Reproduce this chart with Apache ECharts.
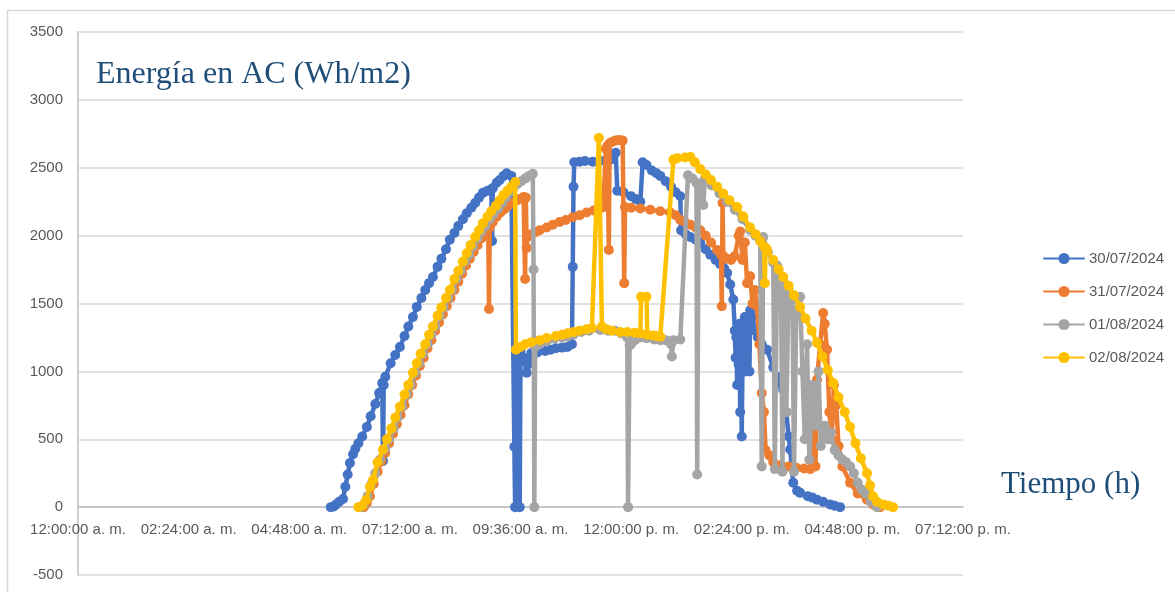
<!DOCTYPE html>
<html>
<head>
<meta charset="utf-8">
<script src="https://cdn.jsdelivr.net/npm/echarts@6/dist/echarts.min.js"></script>
<style>
  html, body { margin:0; padding:0; background:#fff; }
  #chart { width:1175px; height:592px; }
</style>
</head>
<body>
<div id="chart"></div>
<script>
// fechas (leyenda)
var dias = ['30/07/2024', '31/07/2024', '01/08/2024', '02/08/2024'];
var colores = ['#4472C4', '#ED7D31', '#A5A5A5', '#FFC000'];
// eje Y
var yMin = -500, yMax = 3500, yPaso = 500;
// eje X en horas
var xMin = 0, xMax = 19.2, xPaso = 2.4;

// energia AC [hora, Wh/m2]
var d3007 = [['05:29',0],['05:33',5],['05:36',20],['05:40',40],['05:45',60],['05:48',150],['05:51',240],['05:54',325],['05:58',390],['06:01',430],['06:05',470],['06:10',520],['06:16',590],['06:21',670],['06:27',760],['06:32',840],['06:36',915],['06:37',340],['06:38',900],['06:40',960],['06:47',1060],['06:53',1120],['06:59',1180],['07:05',1260],['07:10',1330],['07:16',1400],['07:21',1475],['07:27',1540],['07:32',1600],['07:37',1650],['07:42',1695],['07:48',1770],['07:53',1830],['07:59',1900],['08:04',1970],['08:10',2020],['08:15',2070],['08:21',2120],['08:26',2165],['08:32',2205],['08:37',2240],['08:42',2280],['08:47',2315],['08:53',2330],['08:58',2340],['08:59',1960],['09:00',2350],['09:05',2390],['09:09',2410],['09:14',2440],['09:18',2460],['09:24',2440],['09:28',445],['09:29',0],['09:30',1130],['09:35',0],['09:36',1150],['09:40',1100],['09:44',990],['09:46',1050],['09:50',1135],['09:58',1140],['10:08',1150],['10:15',1160],['10:22',1170],['10:30',1175],['10:37',1180],['10:43',1200],['10:44',1770],['10:45',2360],['10:46',2540],['10:53',2545],['11:00',2550],['11:10',2545],['11:19',2550],['11:27',2555],['11:33',2560],['11:36',2600],['11:40',2610],['11:42',2330],['11:50',2320],['12:00',2290],['12:06',2270],['12:12',2250],['12:15',2540],['12:20',2520],['12:27',2480],['12:33',2460],['12:38',2440],['12:45',2400],['12:52',2360],['12:58',2320],['13:04',2290],['13:05',2040],['13:11',2010],['13:17',1990],['13:24',1970],['13:30',1945],['13:37',1900],['13:43',1860],['13:50',1820],['13:56',1790],['14:01',1760],['14:05',1725],['14:09',1640],['14:13',1530],['14:15',1300],['14:16',1100],['14:17',1250],['14:18',900],['14:19',1200],['14:20',1050],['14:21',1350],['14:22',700],['14:23',1000],['14:24',520],['14:25',1100],['14:26',1200],['14:28',1400],['14:29',1000],['14:30',1250],['14:32',1380],['14:34',1000],['14:35',1450],['14:38',1400],['14:41',1300],['14:45',1250],['14:50',1200],['14:57',1160],['15:05',1030],['15:10',960],['15:14',910],['15:18',865],['15:22',700],['15:25',520],['15:27',425],['15:29',300],['15:31',180],['15:36',120],['15:40',105],['15:50',80],['15:56',70],['16:02',55],['16:10',40],['16:19',20],['16:25',10],['16:32',0]];

var d3107 = [['06:12',0],['06:16',30],['06:20',80],['06:25',170],['06:30',260],['06:35',340],['06:40',400],['06:45',470],['06:50',540],['06:55',610],['07:00',680],['07:05',750],['07:10',830],['07:15',900],['07:20',970],['07:25',1040],['07:30',1100],['07:35',1170],['07:40',1230],['07:45',1300],['07:50',1360],['07:55',1420],['08:00',1480],['08:05',1540],['08:10',1600],['08:15',1660],['08:20',1720],['08:25',1780],['08:30',1830],['08:35',1880],['08:40',1930],['08:45',1980],['08:50',2020],['08:54',2050],['08:55',1460],['08:56',2060],['09:00',2100],['09:05',2140],['09:10',2170],['09:15',2195],['09:20',2220],['09:25',2240],['09:30',2255],['09:35',2270],['09:40',2285],['09:42',1680],['09:43',2280],['09:44',1910],['09:45',1990],['09:50',2010],['09:55',2025],['10:01',2040],['10:10',2060],['10:18',2080],['10:27',2100],['10:35',2115],['10:44',2135],['10:53',2150],['11:02',2170],['11:11',2185],['11:20',2200],['11:24',2210],['11:27',2640],['11:29',2660],['11:31',1895],['11:32',2680],['11:35',2690],['11:39',2700],['11:44',2705],['11:49',2700],['11:51',1650],['11:52',2210],['12:00',2205],['12:12',2200],['12:25',2190],['12:38',2180],['12:51',2170],['12:58',2150],['13:04',2115],['13:10',2100],['13:17',2080],['13:24',2060],['13:30',2040],['13:37',2000],['13:44',1950],['13:52',1895],['13:57',1860],['13:58',1480],['13:59',2240],['14:00',1850],['14:05',1830],['14:10',1820],['14:15',1850],['14:20',2000],['14:22',2030],['14:25',1820],['14:28',1950],['14:31',1650],['14:35',1700],['14:38',1500],['14:41',1600],['14:44',1480],['14:47',1200],['14:50',840],['14:53',700],['14:55',420],['15:00',380],['15:05',330],['15:15',310],['15:25',300],['15:35',290],['15:45',285],['15:53',280],['15:58',600],['16:00',300],['16:02',940],['16:06',1200],['16:10',1430],['16:12',1350],['16:15',1160],['16:18',700],['16:21',500],['16:24',900],['16:27',750],['16:30',450],['16:35',300],['16:45',180],['16:55',100],['17:07',55],['17:15',20],['17:24',0]];

var d0108 = [['06:08',0],['06:12',20],['06:17',80],['06:22',170],['06:27',250],['06:33',350],['06:40',430],['06:45',500],['06:51',580],['06:56',660],['07:02',740],['07:08',830],['07:13',900],['07:19',990],['07:24',1060],['07:29',1130],['07:35',1200],['07:40',1270],['07:45',1330],['07:51',1410],['07:56',1470],['08:02',1540],['08:07',1600],['08:13',1680],['08:18',1740],['08:24',1810],['08:29',1860],['08:34',1920],['08:40',1980],['08:45',2030],['08:50',2070],['08:56',2120],['09:01',2160],['09:07',2200],['09:12',2240],['09:17',2280],['09:22',2320],['09:27',2350],['09:32',2380],['09:37',2400],['09:42',2420],['09:47',2440],['09:52',2455],['09:53',1750],['09:54',0],['09:55',1180],['10:01',1200],['10:10',1220],['10:20',1240],['10:30',1250],['10:37',1255],['10:45',1270],['10:55',1290],['11:05',1300],['11:20',1305],['11:30',1300],['11:39',1300],['11:47',1280],['11:55',1250],['11:56',0],['11:58',1190],['12:00',1200],['12:05',1230],['12:12',1250],['12:20',1245],['12:30',1235],['12:38',1230],['12:45',1230],['12:52',1200],['12:53',1110],['12:55',1230],['13:04',1235],['13:14',2445],['13:20',2420],['13:25',2390],['13:26',240],['13:28',2370],['13:32',2240],['13:34',2225],['13:36',2420],['13:45',2370],['13:55',2310],['14:05',2250],['14:15',2190],['14:25',2120],['14:35',2040],['14:42',2000],['14:48',1960],['14:50',300],['14:52',1990],['14:58',1880],['15:05',1800],['15:07',280],['15:10',1780],['15:15',1700],['15:17',260],['15:19',1650],['15:22',700],['15:25',1600],['15:30',1530],['15:32',260],['15:35',1450],['15:40',1550],['15:43',1000],['15:46',500],['15:49',1200],['15:52',350],['15:56',900],['16:00',600],['16:04',1000],['16:07',450],['16:12',600],['16:16',500],['16:20',550],['16:25',420],['16:30',380],['16:35',350],['16:40',330],['16:45',300],['16:50',250],['16:55',180],['17:00',130],['17:05',100],['17:12',40],['17:20',0]];

var d0208 = [['06:05',0],['06:10',10],['06:15',50],['06:20',150],['06:24',200],['06:30',330],['06:37',425],['06:42',500],['06:48',580],['06:53',660],['06:59',740],['07:05',830],['07:10',900],['07:16',990],['07:21',1060],['07:26',1130],['07:32',1200],['07:37',1270],['07:42',1330],['07:48',1410],['07:53',1470],['07:59',1540],['08:04',1600],['08:10',1680],['08:15',1740],['08:21',1810],['08:26',1870],['08:31',1930],['08:37',1990],['08:42',2040],['08:47',2090],['08:53',2140],['08:58',2180],['09:04',2220],['09:09',2260],['09:14',2300],['09:19',2330],['09:24',2360],['09:29',2395],['09:30',1160],['09:36',1180],['09:42',1200],['09:50',1215],['10:01',1230],['10:10',1245],['10:22',1260],['10:30',1270],['10:37',1280],['10:45',1290],['10:53',1300],['11:02',1310],['11:09',1320],['11:18',2720],['11:22',1330],['11:28',1310],['11:35',1300],['11:46',1290],['11:55',1290],['12:05',1285],['12:12',1280],['12:13',1550],['12:20',1550],['12:21',1270],['12:28',1265],['12:33',1260],['12:38',1255],['12:55',2560],['13:00',2570],['13:10',2575],['13:17',2580],['13:23',2540],['13:30',2490],['13:37',2450],['13:44',2410],['13:52',2360],['14:00',2310],['14:08',2260],['14:18',2210],['14:26',2140],['14:35',2060],['14:42',2010],['14:48',1960],['14:53',1920],['14:54',1650],['14:55',1910],['14:57',1895],['15:05',1820],['15:12',1750],['15:18',1695],['15:25',1630],['15:32',1560],['15:40',1475],['15:47',1390],['15:55',1300],['16:02',1210],['16:09',1110],['16:16',1010],['16:23',915],['16:30',810],['16:38',700],['16:45',590],['16:52',470],['16:59',360],['17:07',250],['17:11',160],['17:15',80],['17:20',40],['17:28',20],['17:35',10],['17:41',0]];

function hm(s) {
  var p = s.split(':');
  return parseInt(p[0], 10) + parseInt(p[1], 10) / 60;
}
function aHoras(lista) {
  return lista.map(function (d) { return [hm(d[0]), d[1]]; });
}
function dos(n) { return (n < 10 ? '0' : '') + n; }
function etiquetaHora(v) {
  var tot = Math.round(v * 60);
  var h = Math.floor(tot / 60), m = tot % 60;
  var ap = h < 12 ? 'a. m.' : 'p. m.';
  var h12 = h % 12;
  if (h12 === 0) h12 = 12;
  return dos(h12) + ':' + dos(m) + ':00 ' + ap;
}

var datos = [d3007, d3107, d0108, d0208];

var chart = echarts.init(document.getElementById('chart'));
var series = [];
for (var i = 0; i < dias.length; i++) {
  series.push({
    name: dias[i],
    type: 'line',
    data: aHoras(datos[i]),
    symbol: 'circle',
    symbolSize: 10,
    showSymbol: true,
    lineStyle: { width: 4.5, color: colores[i], join: 'round', cap: 'round' },
    itemStyle: { color: colores[i] },
    z: 2 + i
  });
}

var option = {
  animation: false,
  backgroundColor: '#fff',
  color: colores,
  title: [
    {
      text: 'Energía en AC (Wh/m2)',
      left: 91, top: 54,
      textStyle: { fontFamily: 'Liberation Serif', fontSize: 32, fontWeight: 'normal', color: '#1F4E79' }
    },
    {
      text: 'Tiempo (h)',
      left: 996, top: 464,
      textStyle: { fontFamily: 'Liberation Serif', fontSize: 31, fontWeight: 'normal', color: '#1F4E79' }
    }
  ],
  legend: {
    data: dias,
    orient: 'vertical',
    left: 1038,
    top: 246,
    itemWidth: 40,
    itemHeight: 14,
    itemGap: 18,
    textStyle: { fontFamily: 'Liberation Sans', fontSize: 15, color: '#595959' }
  },
  grid: { left: 78, right: 212, top: 32, bottom: 17 },
  xAxis: {
    type: 'value',
    min: xMin, max: xMax, interval: xPaso,
    position: 'bottom',
    offset: -68,
    axisLine: { onZero: false, lineStyle: { color: '#bfbfbf', width: 1.5 } },
    axisTick: { show: false },
    splitLine: { show: false },
    axisLabel: {
      formatter: etiquetaHora,
      margin: 15,
      showMinLabel: true, showMaxLabel: true,
      fontFamily: 'Liberation Sans', fontSize: 15, color: '#595959'
    }
  },
  yAxis: {
    type: 'value',
    min: yMin, max: yMax, interval: yPaso,
    axisLine: { show: true, lineStyle: { color: '#bfbfbf', width: 1.5 } },
    axisTick: { show: false },
    splitLine: { lineStyle: { color: '#d9d9d9', width: 1.5 } },
    axisLabel: {
      margin: 15, fontFamily: 'Liberation Sans', fontSize: 15, color: '#595959',
      formatter: function (v) { return String(v); }
    }
  },
  graphic: [{
    type: 'rect',
    shape: { x: 7.5, y: 10.5, width: 1200, height: 620 },
    style: { fill: 'none', stroke: '#d9d9d9', lineWidth: 1.5 },
    silent: true
  }],
  series: series
};
chart.setOption(option);
</script>
</body>
</html>
